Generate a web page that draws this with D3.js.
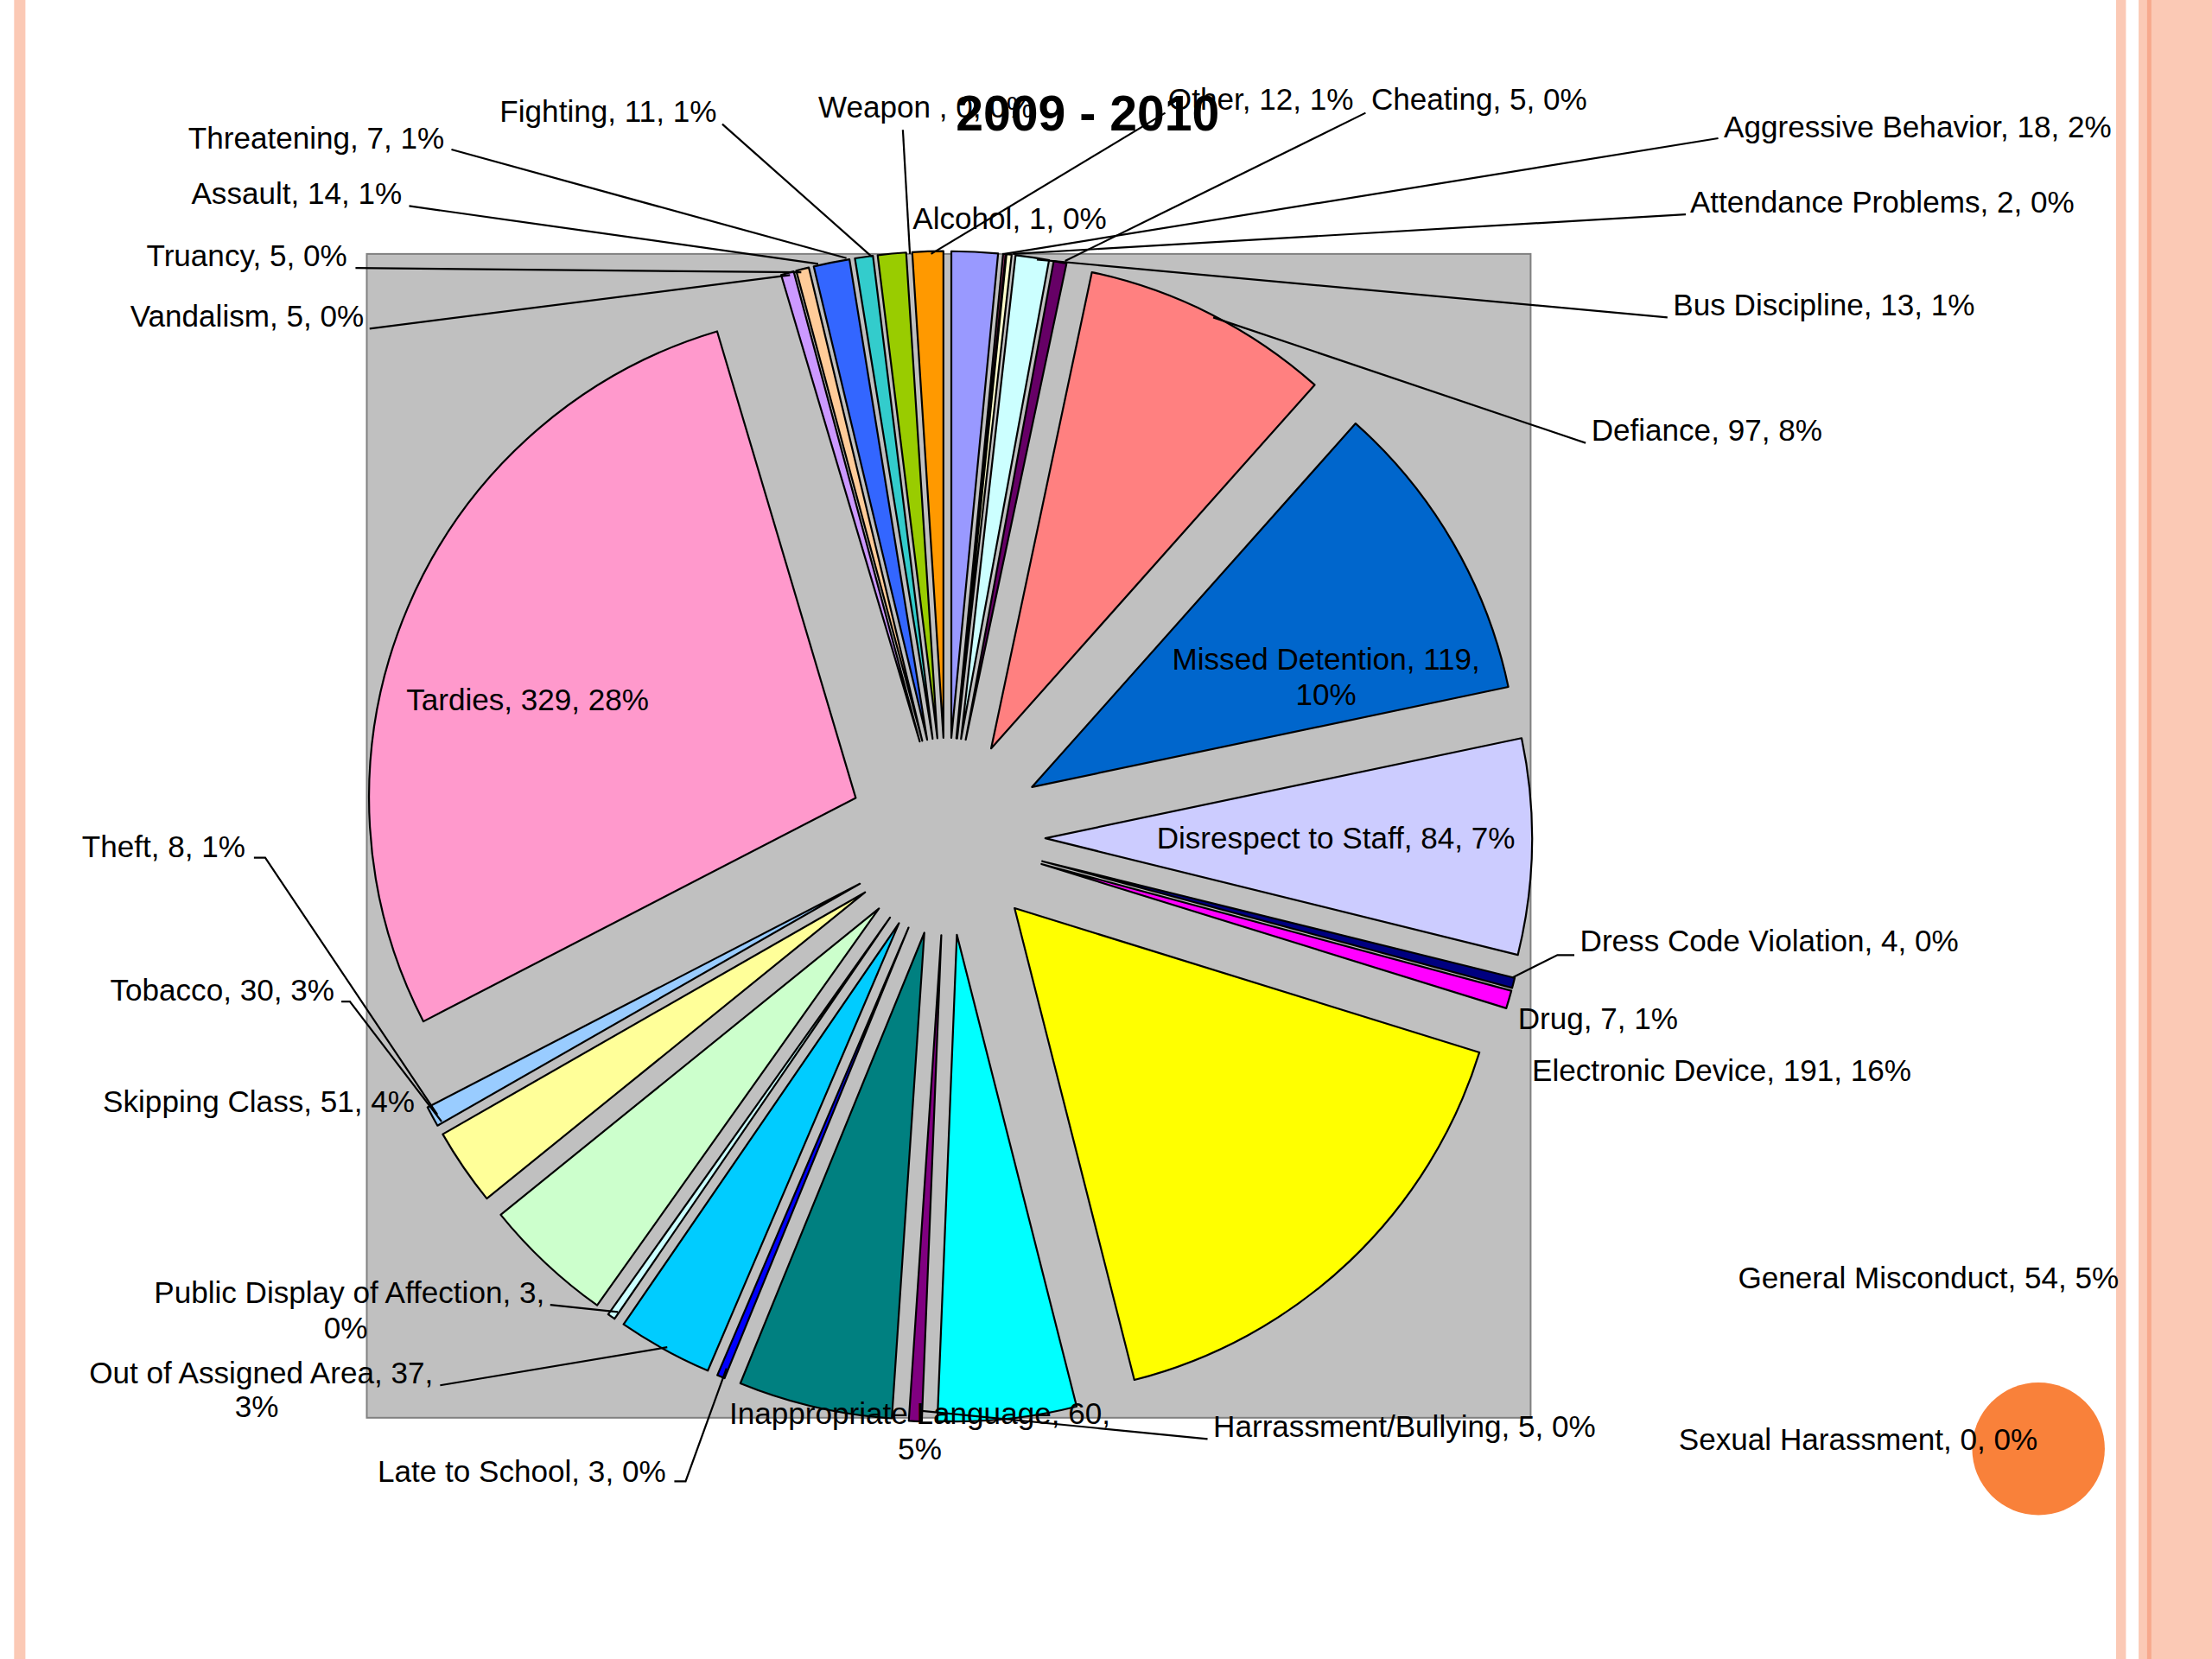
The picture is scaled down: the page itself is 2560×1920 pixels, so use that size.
<!DOCTYPE html>
<html>
<head>
<meta charset="UTF-8">
<style>
  body { margin: 0; background: #fff; }
  svg { display: block; }
</style>
</head>
<body>
<svg width="2560" height="1920"></svg>
<script src="https://d3js.org/d3.v7.min.js"></script>
<script>
// slices clockwise from 12 o'clock
const categories = ["Aggressive Behavior","Alcohol","Attendance Problems","Bus Discipline","Cheating",
  "Defiance","Missed Detention","Disrespect to Staff","Dress Code Violation","Drug","Electronic Device",
  "General Misconduct","Harrassment/Bullying","Sexual Harassment","Inappropriate Language","Late to School",
  "Out of Assigned Area","Public Display of Affection","Skipping Class","Tobacco","Theft","Tardies",
  "Vandalism","Truancy","Assault","Threatening","Fighting","Weapon","Other"];
const counts = [18,1,2,13,5,97,119,84,4,7,191,54,5,0,60,3,37,3,51,30,8,329,5,5,14,7,11,0,12];
const colors = ["#9999FF","#993366","#FFFFCC","#CCFFFF","#660066","#FF8080","#0066CC","#CCCCFF","#000080",
  "#FF00FF","#FFFF00","#00FFFF","#800080","#800000","#008080","#0000FF","#00CCFF","#CCFFFF","#CCFFCC",
  "#FFFF99","#99CCFF","#FF99CC","#CC99FF","#FFCC99","#3366FF","#33CCCC","#99CC00","#FFCC00","#FF9900"];

// label text lines, anchor, position (in 1568-wide units) and optional leader line
const labels = [
  {t:["Weapon , 0, 0%"], a:"start", x:580, y:78, l:[[640,92],[645,180]]},
  {t:["Other, 12, 1%"], a:"start", x:828, y:72, l:[[826,80],[660,180]]},
  {t:["Cheating, 5, 0%"], a:"start", x:972, y:72, l:[[968,80],[755,185]]},
  {t:["Aggressive Behavior, 18, 2%"], a:"start", x:1222, y:92, l:[[1218,98],[712,180]]},
  {t:["Attendance Problems, 2, 0%"], a:"start", x:1198, y:145, l:[[1195,152],[718,180]]},
  {t:["Bus Discipline, 13, 1%"], a:"start", x:1186, y:218, l:[[1182,225],[735,184]]},
  {t:["Defiance, 97, 8%"], a:"start", x:1128, y:307, l:[[1124,314],[860,225]]},
  {t:["Alcohol, 1, 0%"], a:"start", x:647, y:157},
  {t:["Fighting, 11, 1%"], a:"end", x:508, y:81, l:[[512,88],[618,182]]},
  {t:["Threatening, 7, 1%"], a:"end", x:315, y:100, l:[[320,106],[600,183]]},
  {t:["Assault, 14, 1%"], a:"end", x:285, y:139, l:[[290,146],[580,187]]},
  {t:["Truancy, 5, 0%"], a:"end", x:246, y:183, l:[[252,190],[568,193]]},
  {t:["Vandalism, 5, 0%"], a:"end", x:258, y:226, l:[[262,233],[560,195]]},
  {t:["Tardies, 329, 28%"], a:"middle", x:374, y:498},
  {t:["Missed Detention, 119,","10%"], a:"middle", x:940, y:469},
  {t:["Disrespect to Staff, 84, 7%"], a:"middle", x:947, y:596},
  {t:["Dress Code Violation, 4, 0%"], a:"start", x:1120, y:669, l:[[1116,677],[1104,677],[1072,693]]},
  {t:["Drug, 7, 1%"], a:"start", x:1076, y:724},
  {t:["Electronic Device, 191, 16%"], a:"start", x:1086, y:761},
  {t:["General Misconduct, 54, 5%"], a:"start", x:1232, y:908},
  {t:["Sexual Harassment, 0, 0%"], a:"start", x:1190, y:1022},
  {t:["Harrassment/Bullying, 5, 0%"], a:"start", x:860, y:1013, l:[[856,1020],[652,1000]]},
  {t:["Inappropriate Language, 60,","5%"], a:"middle", x:652, y:1004},
  {t:["Late to School, 3, 0%"], a:"end", x:472, y:1045, l:[[478,1050],[486,1050],[515,970]]},
  {t:["Out of Assigned Area, 37,"], a:"end", x:307, y:975, l:[[312,982],[473,955]]},
  {t:["3%"], a:"middle", x:182, y:999},
  {t:["Public Display of Affection, 3,"], a:"end", x:386, y:918, l:[[390,925],[438,930]]},
  {t:["0%"], a:"middle", x:245, y:943},
  {t:["Skipping Class, 51, 4%"], a:"end", x:294, y:783},
  {t:["Tobacco, 30, 3%"], a:"end", x:237, y:704, l:[[242,710],[248,710],[313,795]]},
  {t:["Theft, 8, 1%"], a:"end", x:174, y:602, l:[[180,608],[188,608],[310,790]]}
];

const k = 2560 / 1568;
const svg = d3.select("svg");
const font = "Arial, 'Liberation Sans', sans-serif";

// side decorations
svg.append("rect").attr("x", 10*k).attr("y", 0).attr("width", 8*k).attr("height", 1920).attr("fill", "#FBC9B5");
svg.append("rect").attr("x", 1500*k).attr("y", 0).attr("width", 7*k).attr("height", 1920).attr("fill", "#FBC9B5");
svg.append("rect").attr("x", 1516*k).attr("y", 0).attr("width", 60*k).attr("height", 1920).attr("fill", "#FBC9B5");
svg.append("rect").attr("x", 1522*k).attr("y", 0).attr("width", 3*k).attr("height", 1920).attr("fill", "#F7A98D");

// orange dot (behind the labels)
svg.append("circle").attr("cx", 1445*k).attr("cy", 1027*k).attr("r", 47*k).attr("fill", "#F9813A");

// plot area
svg.append("rect").attr("x", 260*k).attr("y", 180*k).attr("width", 825*k).attr("height", 825*k)
  .attr("fill", "#C0C0C0").attr("stroke", "#808080").attr("stroke-width", 2);

const cx = 671*k, cy = 593*k, R = 345*k, explode = 70*k;
const pie = d3.pie().sort(null).value(d => d)(counts);
const arc = d3.arc().innerRadius(0).outerRadius(R);

svg.append("g").attr("transform", `translate(${cx},${cy})`)
  .selectAll("path").data(pie.filter(d => d.value > 0)).enter().append("path")
  .attr("transform", d => {
    const m = (d.startAngle + d.endAngle) / 2;
    return `translate(${Math.sin(m)*explode},${-Math.cos(m)*explode})`;
  })
  .attr("d", arc)
  .attr("fill", d => colors[d.index])
  .attr("stroke", "#000").attr("stroke-width", 2.2).attr("stroke-linejoin", "round");

// leader lines
const line = d3.line().x(p => p[0]*k).y(p => p[1]*k);
svg.append("g").selectAll("path").data(labels.filter(d => d.l)).enter().append("path")
  .attr("d", d => line(d.l)).attr("fill", "none").attr("stroke", "#000").attr("stroke-width", 2.2);

// labels
const lg = svg.append("g").attr("font-family", font).attr("font-size", 21.5*k).attr("fill", "#000");
labels.forEach(d => {
  const txt = lg.append("text").attr("text-anchor", d.a).attr("dominant-baseline", "middle");
  d.t.forEach((s, j) => {
    txt.append("tspan").attr("x", d.x*k).attr("y", (d.y + j*25)*k).text(s);
  });
});

// title
svg.append("text").attr("x", 771*k).attr("y", 83*k).attr("text-anchor", "middle")
  .attr("dominant-baseline", "middle").attr("font-family", font).attr("font-weight", "bold")
  .attr("font-size", 35*k).text("2009 - 2010");
</script>
</body>
</html>
